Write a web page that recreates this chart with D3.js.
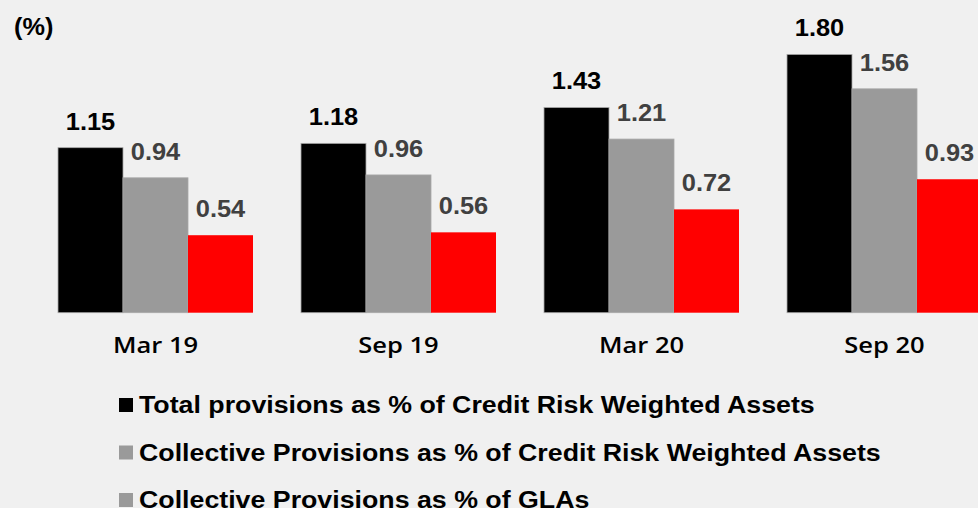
<!DOCTYPE html>
<html>
<head>
<meta charset="utf-8">
<script src="https://cdn.jsdelivr.net/npm/d3@7"></script>
<style>
  html, body { margin: 0; padding: 0; background: #f0f0f0; }
  svg { display: block; }
</style>
</head>
<body>
<script>
const categories = ["Mar 19", "Sep 19", "Mar 20", "Sep 20"];
const seriesNames = [
  "Total provisions as % of Credit Risk Weighted Assets",
  "Collective Provisions as % of Credit Risk Weighted Assets",
  "Collective Provisions as % of GLAs"
];
const totalProvisions = [1.15, 1.18, 1.43, 1.80];
const collectiveCRWA = [0.94, 0.96, 1.21, 1.56];
const collectiveGLA = [0.54, 0.56, 0.72, 0.93];
const seriesValues = [totalProvisions, collectiveCRWA, collectiveGLA];
const barColors = ["#000000", "#9a9a9a", "#ff0000"];
const legendColors = ["#000000", "#9a9a9a", "#9a9a9a"];
const labelColors = ["#000000", "#404040", "#404040"];
const unitLabel = "(%)";

const W = 978, H = 508;
const svg = d3.select("body").append("svg").attr("width", W).attr("height", H);
svg.append("rect").attr("width", W).attr("height", H).attr("fill", "#f0f0f0");

const x0 = d3.scaleBand().domain(categories).range([58, 982]).paddingInner(48 / 243).paddingOuter(0);
const x1 = d3.scaleBand().domain(d3.range(seriesValues.length)).range([0, x0.bandwidth()]).padding(0);
const y = d3.scaleLinear().domain([0, 2]).range([312.7, 25.7]);

// helper: horizontally stretched text anchored at (x, y)
function stretchedText(parent, x, yPos, kx, anchor) {
  const g = parent.append("g").attr("transform", `translate(${x},${yPos}) scale(${kx},1)`);
  return g.append("text").attr("x", 0).attr("y", 0).attr("text-anchor", anchor);
}

const groups = svg.selectAll("g.grp").data(categories).join("g")
  .attr("class", "grp")
  .attr("transform", d => `translate(${x0(d)},0)`);

groups.each(function(cat, ci) {
  const g = d3.select(this);
  seriesValues.forEach((vals, si) => {
    const v = vals[ci];
    g.append("rect")
      .attr("x", x1(si))
      .attr("y", y(v))
      .attr("width", x1.bandwidth())
      .attr("height", y(0) - y(v))
      .attr("fill", barColors[si])
      .attr("stroke", si === 2 ? "none" : "#a8a8a8")
      .attr("stroke-width", 0.8);
    stretchedText(g, x1(si) + x1.bandwidth() / 2, y(v) - 18, 1.06, "middle")
      .attr("font-family", "Liberation Sans, Arial, sans-serif")
      .attr("font-weight", "bold")
      .attr("font-size", 24)
      .attr("fill", labelColors[si])
      .text(v.toFixed(2));
  });
});

// category axis labels
const xAxis = d3.axisBottom(x0).tickSize(0).tickPadding(0);
const ax = svg.append("g").attr("transform", `translate(0,${y(0)})`).call(xAxis);
ax.select(".domain").remove();
ax.selectAll(".tick text")
  .attr("dy", null)
  .attr("y", 40.5)
  .attr("transform", "scale(1.16,1)")
  .attr("font-family", "Open Sans, sans-serif")
  .attr("font-weight", 600)
  .attr("font-size", 22)
  .attr("fill", "#000");

// unit label
stretchedText(svg, 14, 35, 1.1, "start")
  .attr("font-family", "Liberation Sans, Arial, sans-serif")
  .attr("font-weight", "bold")
  .attr("font-size", 23)
  .attr("fill", "#000")
  .text(unitLabel);

// legend
const legendY = d3.scalePoint().domain(d3.range(seriesNames.length)).range([413, 508]);
const lg = svg.selectAll("g.leg").data(seriesNames).join("g")
  .attr("class", "leg")
  .attr("transform", (d, i) => `translate(0,${legendY(i)})`);
lg.append("rect")
  .attr("x", 119).attr("y", -15).attr("width", 14).attr("height", 14)
  .attr("fill", (d, i) => legendColors[i]);
const legTexts = lg.append("g").attr("class", "lt").append("text")
  .attr("x", 0).attr("y", 0)
  .attr("font-family", "Liberation Sans, Arial, sans-serif")
  .attr("font-weight", "bold")
  .attr("font-size", 23.5)
  .attr("fill", "#000")
  .text(d => d);
const w0 = legTexts.nodes()[0].getComputedTextLength();
const kLeg = 676 / w0;
lg.select("g.lt").attr("transform", `translate(139,0) scale(${kLeg},1)`);
</script>
</body>
</html>
